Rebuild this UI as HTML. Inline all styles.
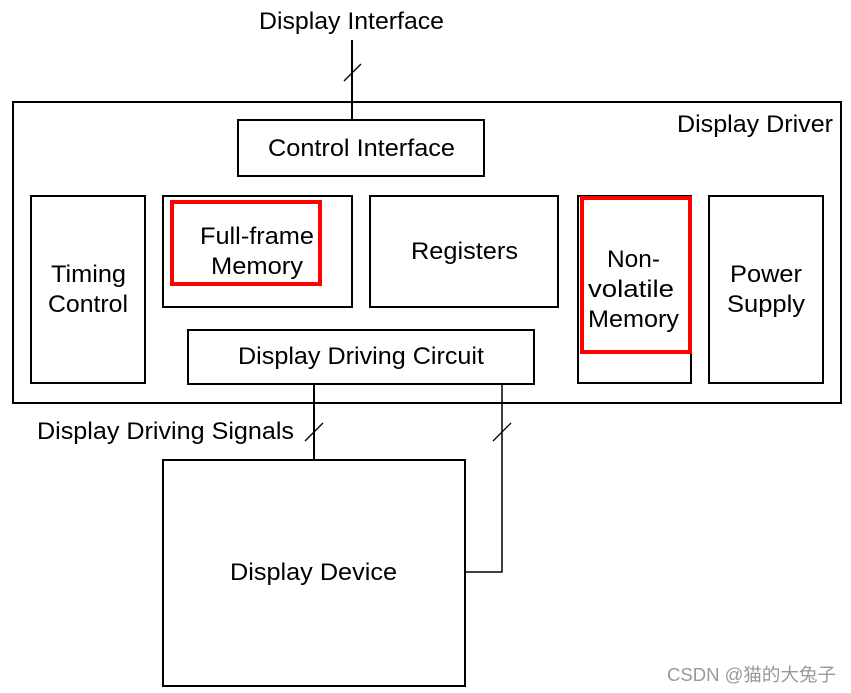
<!DOCTYPE html>
<html><head><style>
html,body{margin:0;padding:0;background:#fff;}
svg{display:block;}
text{font-family:"Liberation Sans",sans-serif;font-size:24px;fill:#000;}
</style></head><body>
<svg width="851" height="693" viewBox="0 0 851 693" xmlns="http://www.w3.org/2000/svg">
<g fill="none" stroke="#000" stroke-width="2">
<line x1="352" y1="40" x2="352" y2="120"/>
<rect x="13" y="102" width="828" height="301"/>
<rect x="238" y="120" width="246" height="56"/>
<rect x="31" y="196" width="114" height="187"/>
<rect x="163" y="196" width="189" height="111"/>
<rect x="370" y="196" width="188" height="111"/>
<rect x="578" y="196" width="113" height="187"/>
<rect x="709" y="196" width="114" height="187"/>
<rect x="188" y="330" width="346" height="54"/>
<line x1="314" y1="384" x2="314" y2="460"/>
<polyline points="502,384 502,572 466,572" stroke-width="1.5"/>
<rect x="163" y="460" width="302" height="226"/>
</g>
<g stroke="#000" stroke-width="1.3">
<line x1="344" y1="81" x2="361" y2="64"/>
<line x1="305" y1="441" x2="323" y2="423"/>
<line x1="493" y1="441" x2="511" y2="423"/>
</g>
<g fill="none" stroke="#f00" stroke-width="4">
<rect x="172" y="202" width="148" height="82"/>
<rect x="582" y="198" width="108" height="154"/>
</g>
<g lengthAdjust="spacingAndGlyphs">
<text x="259" y="29" textLength="185" lengthAdjust="spacingAndGlyphs">Display Interface</text>
<text x="677" y="132" textLength="156" lengthAdjust="spacingAndGlyphs">Display Driver</text>
<text x="268" y="156" textLength="187" lengthAdjust="spacingAndGlyphs">Control Interface</text>
<text x="51" y="282" textLength="75" lengthAdjust="spacingAndGlyphs">Timing</text>
<text x="48" y="312" textLength="80" lengthAdjust="spacingAndGlyphs">Control</text>
<text x="200" y="244" textLength="114" lengthAdjust="spacingAndGlyphs">Full-frame</text>
<text x="211" y="274" textLength="92" lengthAdjust="spacingAndGlyphs">Memory</text>
<text x="411" y="259" textLength="107" lengthAdjust="spacingAndGlyphs">Registers</text>
<text x="607" y="267" textLength="53" lengthAdjust="spacingAndGlyphs">Non-</text>
<text x="588" y="297" textLength="86" lengthAdjust="spacingAndGlyphs">volatile</text>
<text x="588" y="327" textLength="91" lengthAdjust="spacingAndGlyphs">Memory</text>
<text x="730" y="282" textLength="72" lengthAdjust="spacingAndGlyphs">Power</text>
<text x="727" y="312" textLength="78" lengthAdjust="spacingAndGlyphs">Supply</text>
<text x="238" y="364" textLength="246" lengthAdjust="spacingAndGlyphs">Display Driving Circuit</text>
<text x="37" y="439" textLength="257" lengthAdjust="spacingAndGlyphs">Display Driving Signals</text>
<text x="230" y="580" textLength="167" lengthAdjust="spacingAndGlyphs">Display Device</text>
</g>
<text x="667" y="681" textLength="169" lengthAdjust="spacingAndGlyphs" style="font-family:'Liberation Sans','Noto Sans CJK SC',sans-serif;font-size:18px;fill:#999">CSDN @猫的大兔子</text>
</svg>
</body></html>
